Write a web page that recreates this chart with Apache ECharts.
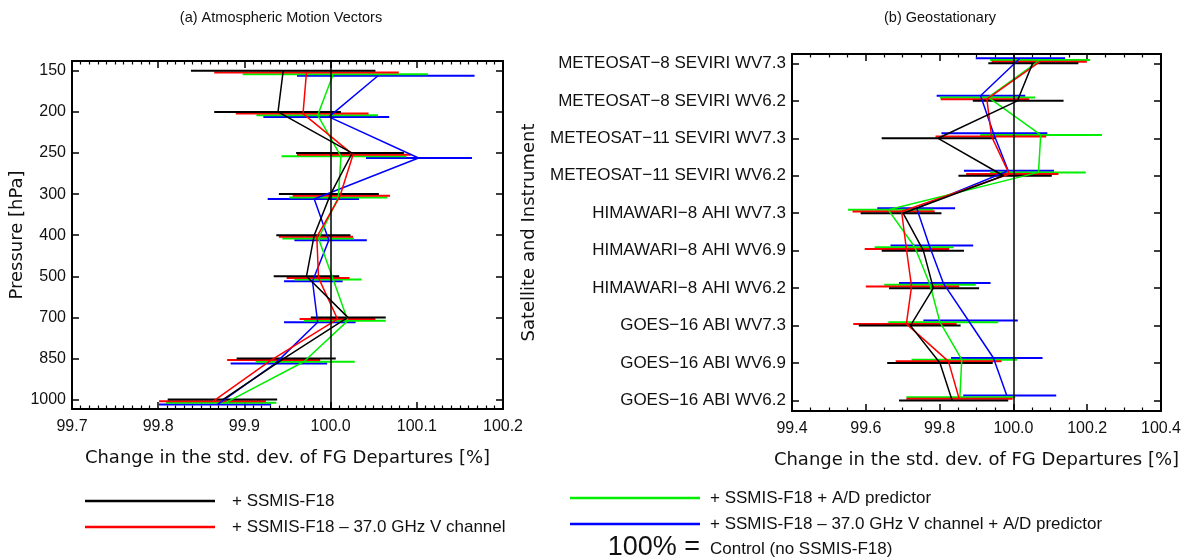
<!DOCTYPE html>
<html lang="en">
<head>
<meta charset="utf-8">
<title>SSMIS-F18 impact on AMV and geostationary radiances</title>
<script src="https://cdn.jsdelivr.net/npm/echarts@6/dist/echarts.min.js"></script>
<style>
    html, body { margin: 0; padding: 0; background: #fff; }
    #main { width: 1188px; height: 557px; }
</style>
</head>
<body>
<div id="main"></div>
<script>
    // (a) pressure levels, top to bottom
    var amvLevels = ['150', '200', '250', '300', '400', '500', '700', '850', '1000'];
    // (b) channels, bottom (index 0) to top
    var geoNames = ['GOES\u221216 ABI WV6.2', 'GOES\u221216 ABI WV6.9', 'GOES\u221216 ABI WV7.3',
        'HIMAWARI\u22128 AHI WV6.2', 'HIMAWARI\u22128 AHI WV6.9', 'HIMAWARI\u22128 AHI WV7.3',
        'METEOSAT\u221211 SEVIRI WV6.2', 'METEOSAT\u221211 SEVIRI WV7.3',
        'METEOSAT\u22128 SEVIRI WV6.2', 'METEOSAT\u22128 SEVIRI WV7.3'];

    // [low, mean, high] per level
    var amvSsmis = [[99.838, 99.945, 100.052], [99.865, 99.939, 100.012], [99.960, 100.025, 100.085],
        [99.940, 100.000, 100.056], [99.937, 99.981, 100.023], [99.934, 99.972, 100.010],
        [99.977, 100.020, 100.064], [99.891, 99.946, 100.006], [99.811, 99.875, 99.938]];
    var amvNo37 = [[99.865, 99.972, 100.079], [99.890, 99.968, 100.044], [99.961, 100.026, 100.093],
        [99.956, 100.011, 100.069], [99.940, 99.984, 100.026], [99.949, 99.986, 100.022],
        [99.964, 100.008, 100.052], [99.880, 99.931, 99.988], [99.801, 99.864, 99.925]];
    var amvAD = [[99.898, 100.003, 100.113], [99.914, 99.985, 100.055], [99.943, 100.012, 100.088],
        [99.952, 100.009, 100.066], [99.944, 99.986, 100.027], [99.958, 100.003, 100.036],
        [99.969, 100.020, 100.064], [99.913, 99.969, 100.028], [99.809, 99.878, 99.937]];
    var amvNo37AD = [[99.961, 100.055, 100.167], [99.922, 99.998, 100.068], [100.041, 100.102, 100.164],
        [99.927, 99.981, 100.033], [99.958, 99.998, 100.042], [99.946, 99.979, 100.014],
        [99.946, 99.985, 100.029], [99.884, 99.936, 99.996], [99.801, 99.869, 99.931]];

    var geoSsmis = [[99.690, 99.834, 99.986], [99.658, 99.801, 99.944], [99.581, 99.721, 99.857],
        [99.663, 99.783, 99.907], [99.643, 99.756, 99.866], [99.586, 99.701, 99.805],
        [99.851, 99.973, 100.104], [99.643, 99.796, 99.950], [99.890, 100.011, 100.136],
        [99.932, 100.052, 100.176]];
    var geoNo37 = [[99.710, 99.853, 99.998], [99.681, 99.824, 99.968], [99.566, 99.710, 99.846],
        [99.600, 99.724, 99.853], [99.597, 99.710, 99.826], [99.564, 99.697, 99.787],
        [99.872, 99.989, 100.122], [99.789, 99.941, 100.089], [99.803, 99.928, 100.043],
        [99.941, 100.072, 100.199]];
    var geoAD = [[99.710, 99.855, 100.005], [99.724, 99.860, 100.010], [99.661, 99.801, 99.959],
        [99.650, 99.774, 99.898], [99.624, 99.733, 99.838], [99.552, 99.661, 99.783],
        [99.937, 100.068, 100.196], [99.910, 100.074, 100.240], [99.801, 99.932, 100.059],
        [99.937, 100.072, 100.208]];
    var geoNo37AD = [[99.864, 99.982, 100.116], [99.831, 99.946, 100.079], [99.756, 99.878, 100.012],
        [99.690, 99.810, 99.938], [99.667, 99.772, 99.891], [99.631, 99.738, 99.842],
        [99.866, 99.986, 100.110], [99.805, 99.946, 100.092], [99.792, 99.911, 100.032],
        [99.898, 100.018, 100.140]];

    var colors = ['#000000', '#ff0000', '#00ee00', '#0000ff'];
    var sansFont = 'Liberation Sans';
    var nameFont = 'DejaVu Sans';

    var myChart = echarts.init(document.getElementById('main'));

    function range(n) {
        var a = [];
        for (var i = 0; i < n; i++) a.push(i);
        return a;
    }

    // one experiment in one panel: connecting line + horizontal error bars
    function expSeries(gi, rows, color, off) {
        var line = {
            type: 'line',
            xAxisIndex: gi * 2,
            yAxisIndex: gi * 2,
            data: rows.map(function (r, i) { return [r[1], i + off]; }),
            symbol: 'none',
            lineStyle: { color: color, width: 1.5 },
            animation: false,
            z: 3
        };
        var bars = {
            type: 'custom',
            xAxisIndex: gi * 2,
            yAxisIndex: gi * 2,
            data: rows.map(function (r, i) { return [r[0], r[2], i + off]; }),
            encode: { x: [0, 1], y: 2 },
            renderItem: function (params, api) {
                var p1 = api.coord([api.value(0), api.value(2)]);
                var p2 = api.coord([api.value(1), api.value(2)]);
                return {
                    type: 'line',
                    shape: { x1: p1[0], y1: p1[1], x2: p2[0], y2: p2[1] },
                    style: { stroke: color, lineWidth: 2 }
                };
            },
            animation: false,
            z: 2
        };
        return [line, bars];
    }

    function xAxes(gi, min, max, step, minor, nameGap) {
        var tick = { inside: true, length: 7, lineStyle: { color: '#000', width: 1.5 } };
        var mtick = { show: true, splitNumber: minor, length: 3.5, lineStyle: { color: '#000', width: 1.2 } };
        var line = { onZero: false, lineStyle: { color: '#000', width: 2 } };
        return [{
            type: 'value', gridIndex: gi, position: 'bottom', min: min, max: max, interval: step,
            axisLine: line, axisTick: tick, minorTick: mtick, splitLine: { show: false },
            axisLabel: {
                margin: 10, fontSize: 16, color: '#111', fontFamily: sansFont,
                formatter: function (v) { return v.toFixed(1); }
            },
            name: 'Change in the std. dev. of FG Departures [%]',
            nameLocation: 'middle', nameGap: nameGap,
            nameTextStyle: { fontFamily: nameFont, fontSize: 18, color: '#111' }
        }, {
            type: 'value', gridIndex: gi, position: 'top', min: min, max: max, interval: step,
            axisLine: line, axisTick: tick, minorTick: mtick, splitLine: { show: false },
            axisLabel: { show: false }
        }];
    }

    function yAxes(gi, min, max, labels, inverse, name, nameGap, labelSize) {
        var vals = range(labels.length);
        var tick = { inside: true, length: 7, customValues: vals, lineStyle: { color: '#000', width: 1.5 } };
        var line = { onZero: false, lineStyle: { color: '#000', width: 2 } };
        return [{
            type: 'value', gridIndex: gi, position: 'left', min: min, max: max, inverse: inverse,
            axisLine: line, axisTick: tick, splitLine: { show: false },
            axisLabel: {
                customValues: vals, margin: 6, fontSize: labelSize, color: '#111', fontFamily: sansFont,
                formatter: function (v) { return labels[Math.round(v)]; }
            },
            name: name, nameLocation: 'middle', nameGap: nameGap, nameRotate: 90,
            nameTextStyle: { fontFamily: nameFont, fontSize: 18, color: '#111' }
        }, {
            type: 'value', gridIndex: gi, position: 'right', min: min, max: max, inverse: inverse,
            axisLine: line, axisTick: tick, splitLine: { show: false },
            axisLabel: { show: false }
        }];
    }

    var amvRows = [amvSsmis, amvNo37, amvAD, amvNo37AD];
    var geoRows = [geoSsmis, geoNo37, geoAD, geoNo37AD];
    var series = [];
    // 100% reference lines
    [0, 1].forEach(function (gi) {
        series.push({
            type: 'line', xAxisIndex: gi * 2, yAxisIndex: gi * 2, data: [], silent: true,
            markLine: {
                symbol: 'none', silent: true, animation: false, label: { show: false },
                lineStyle: { color: '#000', width: 1.5, type: 'solid' },
                data: [{ xAxis: 100 }]
            }
        });
    });
    for (var k = 3; k >= 0; k--) {
        series = series.concat(expSeries(0, amvRows[k], colors[k], k * 0.04));
        series = series.concat(expSeries(1, geoRows[k], colors[k], k * 0.045));
    }

    var legendItems = [
        { x: 85, y: 501, text: '+ SSMIS-F18', color: colors[0] },
        { x: 85, y: 527, text: '+ SSMIS-F18 \u2013 37.0 GHz V channel', color: colors[1] },
        { x: 570, y: 498, text: '+ SSMIS-F18 + A/D predictor', color: colors[2] },
        { x: 570, y: 524, text: '+ SSMIS-F18 \u2013 37.0 GHz V channel + A/D predictor', color: colors[3] }
    ];
    var titleFont = '14.5px "Liberation Sans Narrow", "Liberation Sans"';
    var graphic = [
        { type: 'text', x: 281, y: 18, style: { text: '(a) Atmospheric Motion Vectors', fill: '#111', font: titleFont, textAlign: 'center', textVerticalAlign: 'middle' } },
        { type: 'text', x: 940, y: 18, style: { text: '(b) Geostationary', fill: '#111', font: titleFont, textAlign: 'center', textVerticalAlign: 'middle' } },
        { type: 'text', x: 700, y: 548, style: { text: '100% =', fill: '#111', font: '27px "Liberation Sans"', textAlign: 'right', textVerticalAlign: 'middle' } },
        { type: 'text', x: 710, y: 549, style: { text: 'Control (no SSMIS-F18)', fill: '#111', font: '17px "Liberation Sans"', textVerticalAlign: 'middle' } }
    ];
    legendItems.forEach(function (it) {
        graphic.push({ type: 'line', shape: { x1: it.x, y1: it.y, x2: it.x + 130, y2: it.y }, style: { stroke: it.color, lineWidth: 2.5 } });
        graphic.push({ type: 'text', x: it.x + (it.x < 300 ? 147 : 140), y: it.y, style: { text: it.text, fill: '#111', font: '17px "Liberation Sans"', textVerticalAlign: 'middle' } });
    });

    var option = {
        backgroundColor: '#fff',
        animation: false,
        grid: [
            { left: 72, top: 61, width: 431, height: 348 },
            { left: 792, top: 54, width: 369, height: 357 }
        ],
        xAxis: xAxes(0, 99.7, 100.2, 0.1, 10, 40).concat(xAxes(1, 99.4, 100.4, 0.2, 4, 40)),
        yAxis: yAxes(0, -0.24, 8.23, amvLevels, true, 'Pressure [hPa]', 37, 16)
            .concat(yAxes(1, -0.28, 9.25, geoNames, false, 'Satellite and Instrument', 254, 17)),
        graphic: graphic,
        series: series
    };
    myChart.setOption(option);
</script>
</body>
</html>
